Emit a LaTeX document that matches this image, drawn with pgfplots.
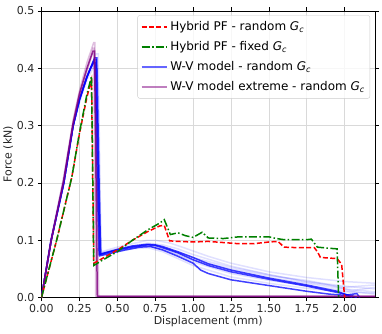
\documentclass[border=0pt]{standalone}
\usepackage{pgfplots}
\pgfplotsset{compat=1.18}
\usepackage{fontspec}
\setmainfont{DejaVu Sans}
\newcommand{\Gc}{\textit{G}\textsubscript{\textit{c}}}
\definecolor{mplred}{HTML}{FF0000}
\definecolor{mplgreen}{HTML}{008000}
\definecolor{mplblue}{HTML}{0000FF}
\definecolor{mplpurple}{HTML}{800080}
\begin{document}
\begin{tikzpicture}
\begin{axis}[
  scale only axis, width=334pt, height=287pt,
  xmin=0, xmax=2.2, ymin=0, ymax=0.5,
  xtick={0,0.25,0.5,0.75,1,1.25,1.5,1.75,2},
  ytick={0,0.1,0.2,0.3,0.4,0.5},
  xticklabel style={/pgf/number format/.cd,fixed,fixed zerofill,precision=2},
  yticklabel style={/pgf/number format/.cd,fixed,fixed zerofill,precision=1},
  /pgf/number format/assume math mode=true,
  tick label style={font=\fontsize{11}{13}\selectfont, text=black!85},
  label style={font=\fontsize{11}{13}\selectfont, text=black!85},
  tick align=outside, major tick length=3.5pt,
  tick style={black, line width=0.6pt},
  axis line style={black, line width=0.6pt},
  grid=major, grid style={gray!30, line width=0.6pt},
  xlabel={Displacement (mm)}, ylabel={Force (kN)},
  xlabel style={yshift=4pt}, ylabel style={yshift=-3pt},
  legend style={at={(0.985,0.985)}, anchor=north east, font=\fontsize{12}{14}\selectfont,
    draw=gray!40, rounded corners=2pt, fill=white, fill opacity=0.8, text opacity=1,
    row sep=5.5pt, inner xsep=3pt, inner ysep=4pt},
  legend cell align=left,
  legend image code/.code={\draw[#1] plot coordinates {(0cm,0cm) (0.45cm,0cm) (0.9cm,0cm)};},
]
\addlegendimage{mplred, line width=1.5pt, dash pattern=on 5pt off 2.4pt}
\addlegendentry{Hybrid PF - random \Gc}
\addlegendimage{mplgreen, line width=1.5pt, dash pattern=on 8pt off 2.4pt on 1.5pt off 2.4pt}
\addlegendentry{Hybrid PF - fixed \Gc}
\addlegendimage{mplblue, opacity=0.6, line width=2pt}
\addlegendentry{W-V model - random \Gc}
\addlegendimage{mplpurple, opacity=0.5, line width=2pt}
\addlegendentry{W-V model extreme - random \Gc}
% faint blue band
\addplot[mplblue, opacity=0.12, line width=1.5pt, forget plot] coordinates {(0,0)(0.06,0.1)(0.14,0.2)(0.2,0.29)(0.25,0.34)(0.3,0.38)(0.35,0.405)(0.37,0.405)(0.385,0.2)(0.395,0.08)(0.5,0.088)(0.6,0.094)(0.7,0.1)(0.75,0.1)(0.85,0.095)(0.95,0.086)(1.1,0.072)(1.25,0.06)(1.5,0.045)(1.75,0.035)(2.0,0.028)(2.2,0.025)};
\addplot[mplblue, opacity=0.12, line width=1.5pt, forget plot] coordinates {(0,0)(0.065,0.1)(0.15,0.2)(0.21,0.3)(0.26,0.35)(0.31,0.39)(0.36,0.425)(0.375,0.425)(0.385,0.2)(0.39,0.078)(0.5,0.085)(0.6,0.09)(0.7,0.095)(0.8,0.092)(0.9,0.085)(1.0,0.075)(1.25,0.055)(1.5,0.04)(1.75,0.028)(2.0,0.02)(2.2,0.015)};
\addplot[mplblue, opacity=0.12, line width=1.5pt, forget plot] coordinates {(0,0)(0.064,0.1)(0.147,0.2)(0.209,0.3)(0.25,0.345)(0.3,0.385)(0.34,0.412)(0.36,0.412)(0.38,0.2)(0.392,0.076)(0.5,0.082)(0.6,0.087)(0.7,0.09)(0.8,0.085)(0.9,0.075)(1.0,0.065)(1.25,0.047)(1.5,0.035)(1.75,0.025)(2.0,0.015)(2.2,0.01)};
\addplot[mplblue, opacity=0.12, line width=1.5pt, forget plot] coordinates {(0,0)(0.064,0.1)(0.147,0.2)(0.209,0.3)(0.25,0.345)(0.3,0.385)(0.34,0.405)(0.35,0.405)(0.365,0.2)(0.38,0.072)(0.5,0.08)(0.6,0.085)(0.7,0.087)(0.8,0.08)(0.9,0.068)(1.0,0.056)(1.25,0.036)(1.5,0.025)(1.75,0.016)(2.0,0.01)(2.2,0.008)};
\addplot[mplblue, opacity=0.12, line width=1.5pt, forget plot] coordinates {(0,0)(0.064,0.1)(0.147,0.2)(0.209,0.3)(0.25,0.345)(0.3,0.385)(0.34,0.41)(0.355,0.41)(0.372,0.2)(0.395,0.075)(0.5,0.083)(0.6,0.09)(0.7,0.093)(0.78,0.09)(0.9,0.078)(1.0,0.068)(1.1,0.06)(1.25,0.05)(1.5,0.038)(1.75,0.03)(1.9,0.022)(2.05,0.012)(2.2,0.018)};
\addplot[mplblue, opacity=0.12, line width=1.5pt, forget plot] coordinates {(0,0)(0.064,0.1)(0.147,0.2)(0.209,0.3)(0.25,0.345)(0.3,0.385)(0.34,0.408)(0.358,0.408)(0.374,0.2)(0.388,0.074)(0.5,0.083)(0.6,0.089)(0.7,0.091)(0.8,0.087)(0.9,0.079)(1.0,0.07)(1.1,0.063)(1.25,0.053)(1.5,0.04)(1.75,0.027)(2.0,0.018)(2.2,0.022)};
\addplot[mplblue, opacity=0.12, line width=1.5pt, forget plot] coordinates {(0,0)(0.064,0.1)(0.147,0.2)(0.209,0.3)(0.25,0.345)(0.3,0.385)(0.34,0.412)(0.362,0.412)(0.378,0.2)(0.392,0.077)(0.5,0.084)(0.6,0.088)(0.7,0.09)(0.8,0.084)(0.9,0.074)(1.0,0.062)(1.1,0.054)(1.25,0.042)(1.5,0.03)(1.75,0.021)(2.0,0.012)(2.2,0.006)};
% main blue lines
\addplot[mplblue, opacity=0.75, line width=1.5pt, forget plot] coordinates {(0,0)(0.064,0.1)(0.147,0.2)(0.209,0.3)(0.25,0.345)(0.3,0.385)(0.323,0.4)(0.35,0.415)(0.36,0.415)(0.375,0.2)(0.385,0.073)(0.45,0.077)(0.55,0.083)(0.65,0.088)(0.72,0.089)(0.8,0.083)(0.9,0.072)(1.0,0.06)(1.05,0.048)(1.1,0.042)(1.25,0.031)(1.5,0.021)(1.75,0.011)(1.9,0.006)(2.0,0.004)(2.08,0.007)(2.1,0.0)};
\addplot[mplblue, opacity=0.75, line width=1.5pt, forget plot] coordinates {(0,0)(0.064,0.1)(0.147,0.2)(0.209,0.3)(0.25,0.345)(0.3,0.385)(0.323,0.4)(0.345,0.41)(0.355,0.41)(0.368,0.2)(0.38,0.075)(0.5,0.083)(0.6,0.088)(0.7,0.092)(0.75,0.091)(0.8,0.087)(0.9,0.078)(1.0,0.066)(1.1,0.056)(1.25,0.045)(1.5,0.032)(1.75,0.02)(1.95,0.009)(2.05,0.003)(2.08,0)};
\addplot[mplblue, opacity=0.75, line width=1.5pt, forget plot] coordinates {(0,0)(0.064,0.1)(0.147,0.2)(0.209,0.3)(0.25,0.345)(0.3,0.385)(0.323,0.4)(0.35,0.418)(0.365,0.418)(0.38,0.2)(0.39,0.076)(0.5,0.084)(0.6,0.09)(0.7,0.093)(0.75,0.092)(0.8,0.089)(0.9,0.08)(1.0,0.07)(1.1,0.059)(1.25,0.048)(1.5,0.034)(1.75,0.022)(1.95,0.011)(2.0,0.006)(2.05,0)};
% purple lines
\addplot[mplpurple, opacity=0.25, line width=1.5pt, forget plot] coordinates {(0,0)(0.064,0.1)(0.147,0.21)(0.209,0.31)(0.25,0.36)(0.3,0.41)(0.345,0.445)(0.352,0.445)(0.362,0.2)(0.37,0.002)(2.2,0.002)};
\addplot[mplpurple, opacity=0.25, line width=1.5pt, forget plot] coordinates {(0,0)(0.064,0.1)(0.147,0.2)(0.209,0.3)(0.25,0.35)(0.3,0.395)(0.335,0.425)(0.345,0.425)(0.352,0.2)(0.358,0.002)(2.2,0.002)};
\addplot[mplpurple, opacity=0.25, line width=1.5pt, forget plot] coordinates {(0,0)(0.064,0.1)(0.147,0.205)(0.209,0.305)(0.25,0.355)(0.3,0.4)(0.34,0.435)(0.348,0.435)(0.365,0.2)(0.378,0.002)(2.2,0.002)};
\addplot[mplpurple, opacity=0.8, line width=1.5pt, forget plot] coordinates {(0,0)(0.064,0.1)(0.147,0.205)(0.209,0.305)(0.25,0.355)(0.3,0.4)(0.34,0.43)(0.35,0.43)(0.36,0.2)(0.368,0.002)(2.2,0.002)};
% hybrid PF
\addplot[mplred, line width=1.5pt, dash pattern=on 5pt off 2.4pt, forget plot] coordinates {(0,0)(0.1,0.1)(0.2,0.21)(0.25,0.285)(0.3,0.35)(0.33,0.38)(0.345,0.06)(0.4,0.068)(0.5,0.083)(0.6,0.1)(0.7,0.115)(0.78,0.125)(0.81,0.126)(0.845,0.099)(0.9,0.098)(1.0,0.097)(1.1,0.098)(1.2,0.096)(1.3,0.094)(1.4,0.094)(1.5,0.097)(1.56,0.098)(1.6,0.088)(1.7,0.087)(1.8,0.087)(1.82,0.08)(1.84,0.07)(1.95,0.068)(1.98,0.058)(2.0,0.0)};
\addplot[mplgreen, line width=1.5pt, dash pattern=on 8pt off 2.4pt on 1.5pt off 2.4pt, forget plot] coordinates {(0,0)(0.1,0.1)(0.2,0.21)(0.25,0.287)(0.3,0.355)(0.33,0.386)(0.345,0.056)(0.4,0.065)(0.5,0.08)(0.6,0.1)(0.7,0.118)(0.78,0.13)(0.81,0.136)(0.85,0.11)(0.9,0.113)(0.95,0.108)(1.0,0.105)(1.06,0.114)(1.1,0.104)(1.2,0.103)(1.3,0.106)(1.5,0.106)(1.55,0.103)(1.6,0.101)(1.75,0.101)(1.78,0.102)(1.82,0.088)(1.9,0.086)(1.95,0.085)(1.96,0.0)};
\end{axis}
\path (current axis.south west) ++(-41pt,-36pt) coordinate (bbA);
\path (current axis.north east) ++(7pt,11pt) coordinate (bbB);
\useasboundingbox (bbA) rectangle (bbB);
\end{tikzpicture}
\end{document}
